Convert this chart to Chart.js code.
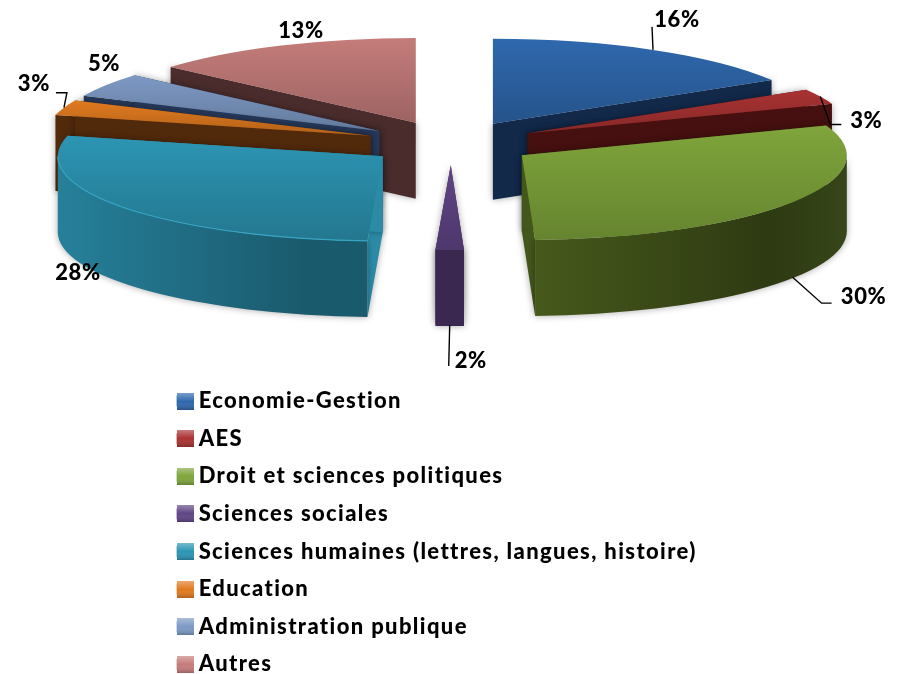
<!DOCTYPE html>
<html><head><meta charset="utf-8">
<style>html,body{margin:0;padding:0;background:#fff;overflow:hidden}#wrap{width:902px;height:674px;position:relative;overflow:hidden}canvas{display:block;filter:blur(0.45px)}</style>
<script src="https://cdn.jsdelivr.net/npm/chart.js@4"></script>
</head><body><div id="wrap"><canvas id="c" width="902" height="691"></canvas></div>
<script>
const categories = ['Economie-Gestion','AES','Droit et sciences politiques','Sciences sociales','Sciences humaines (lettres, langues, histoire)','Education','Administration publique','Autres'];
const shares = [16.4,2.9,30.05,1.4,28.15,2.9,4.6,13.6];
const shareLabels = ['16%','3%','30%','2%','28%','3%','5%','13%'];
const topColors = ['#2f68ad','#a93232','#7fa53b','#604586','#2c95b3','#e07a1f','#7d99c4','#c47c7a'];
const cutColors = ['#12294a','#45100f','#43561c','#3a2850','#2b8ba6','#51290b','#27395a','#4a2c2c'];
const wallFrom  = ['#12294a','#45100f','#46591b','#3a2850','#26809a','#51290b','#27395a','#4a2c2c'];
const wallTo    = ['#12294a','#45100f','#2e3a12','#3a2850','#1a5a6d','#51290b','#27395a','#4a2c2c'];
const rimColors = [null,null,null,null,'#37a5c4',null,null,null];
// label placement relative to the slice's rim anchor (style, not data)
const labelShift = [[24,-30],[46,24],[71,20],[21,36],[0,0],[-30,-24],[0,0],[0,0]];
const leaderPath = [[[-1,-23]],[[10,28],[21,28]],[[29,26],[39,26]],[[-1,41]],[],[[3,-15],[-8,-15]],[],[]];
const freeLabels = {4:[78,273],6:[104,64],7:[301,31]};

const TILT=0.261, DEPTH=76, CX=451, CY=143, EXPLODE=85;
const FONT={family:'Lato',size:22,weight:'900'};
const TRACKING='1.37px';

function sliceGeom(arc){
  const a0=arc.startAngle,a1=arc.endAngle,mid=(a0+a1)/2,R=arc.outerRadius;
  return {a0,a1,mid,R,ox:CX+Math.cos(mid)*EXPLODE,oy:CY+Math.sin(mid)*EXPLODE*TILT};
}
function rimPoint(g,a){return [g.ox+Math.cos(a)*g.R,g.oy+Math.sin(a)*g.R*TILT];}

const pie3d={
  id:'pie3d',
  beforeDraw(chart){chart.ctx.letterSpacing=TRACKING;},
  beforeDatasetDraw(chart,args){
    const ctx=chart.ctx, arcs=chart.getDatasetMeta(args.index).data;
    const order=arcs.map((a,i)=>i).sort((p,q)=>Math.sin(sliceGeom(arcs[p]).mid)-Math.sin(sliceGeom(arcs[q]).mid));
    for(const i of order){
      const arc=arcs[i],g=sliceGeom(arc);
      ctx.save();
      ctx.shadowColor='rgba(0,0,0,0.35)';ctx.shadowBlur=7;
      ctx.fillStyle=cutColors[i];
      for(const a of [g.a0,g.a1]){
        const p=rimPoint(g,a);
        ctx.beginPath();ctx.moveTo(g.ox,g.oy);ctx.lineTo(p[0],p[1]);ctx.lineTo(p[0],p[1]+DEPTH);ctx.lineTo(g.ox,g.oy+DEPTH);ctx.closePath();ctx.fill();
      }
      let w0=Math.max(g.a0,0),w1=Math.min(g.a1,Math.PI);
      if(w1>w0){
        const l=rimPoint(g,w1)[0],r=rimPoint(g,w0)[0];
        const grad=ctx.createLinearGradient(Math.min(l,r),0,Math.max(l,r),0);
        if(i===2){grad.addColorStop(0,wallFrom[i]);grad.addColorStop(.75,wallTo[i]);grad.addColorStop(1,'#36451a');}
        else{grad.addColorStop(0,wallFrom[i]);grad.addColorStop(.8,wallTo[i]);grad.addColorStop(1,wallTo[i]);}
        ctx.fillStyle=grad;
        ctx.beginPath();
        ctx.ellipse(g.ox,g.oy,g.R,g.R*TILT,0,w0,w1);
        ctx.ellipse(g.ox,g.oy+DEPTH,g.R,g.R*TILT,0,w1,w0,true);
        ctx.closePath();ctx.fill();
      }
      ctx.restore();
      ctx.save();
      ctx.translate(g.ox,g.oy);ctx.scale(1,TILT);ctx.translate(-arc.x,-arc.y);
      arc.draw(ctx);
      const ys=[0,Math.sin(g.a0)*g.R,Math.sin(g.a1)*g.R];
      for(const q of [-Math.PI/2,Math.PI/2,Math.PI*1.5]) if(q>g.a0&&q<g.a1) ys.push(Math.sin(q)*g.R);
      const sh=ctx.createLinearGradient(0,arc.y+Math.min(...ys),0,arc.y+Math.max(...ys));
      sh.addColorStop(0,'rgba(0,0,0,0)');sh.addColorStop(1,'rgba(0,0,0,0.2)');
      ctx.fillStyle=sh;
      ctx.beginPath();ctx.moveTo(arc.x,arc.y);ctx.arc(arc.x,arc.y,g.R,g.a0,g.a1);ctx.closePath();ctx.fill();
      ctx.restore();
      if(rimColors[i]&&w1>w0){
        ctx.save();ctx.strokeStyle=rimColors[i];ctx.lineWidth=1.2;
        ctx.beginPath();ctx.ellipse(g.ox,g.oy,g.R,g.R*TILT,0,w0,w1);ctx.stroke();ctx.restore();
      }
    }
    return false;
  },
  afterDraw(chart){
    const ctx=chart.ctx, arcs=chart.getDatasetMeta(0).data;
    ctx.save();
    ctx.letterSpacing='0.6px';
    ctx.font=`${FONT.weight} 22px ${FONT.family}`;
    ctx.textBaseline='middle';ctx.textAlign='center';
    ctx.fillStyle='#000';ctx.strokeStyle='#000';ctx.lineWidth=1.4;
    arcs.forEach((arc,i)=>{
      const g=sliceGeom(arc);
      const p=rimPoint(g,g.mid);
      const ax=p[0],ay=p[1]+(Math.sin(g.mid)>0?DEPTH-1:0);
      if(leaderPath[i].length){
        ctx.beginPath();ctx.moveTo(ax,ay);
        for(const s of leaderPath[i]) ctx.lineTo(ax+s[0],ay+s[1]);
        ctx.stroke();
      }
      const pos=freeLabels[i]||[ax+labelShift[i][0],ay+labelShift[i][1]];
      ctx.fillText(shareLabels[i],pos[0],pos[1]);
    });
    const S=17;
    chart.legend.legendHitBoxes.forEach((b,i)=>{
      const x=Math.round(b.left),y=Math.round(b.top+b.height/2-S/2);
      ctx.fillStyle=topColors[i];ctx.fillRect(x,y,S,S);
      const gr=ctx.createLinearGradient(0,y,0,y+S);
      gr.addColorStop(0,'rgba(255,255,255,0.35)');gr.addColorStop(.5,'rgba(255,255,255,0)');gr.addColorStop(1,'rgba(0,0,0,0.22)');
      ctx.fillStyle=gr;ctx.fillRect(x,y,S,S);
    });
    ctx.restore();
  }
};

new Chart(document.getElementById('c'),{
  type:'pie',
  data:{labels:categories,datasets:[{data:shares,backgroundColor:topColors,borderWidth:0,radius:325}]},
  plugins:[pie3d],
  options:{
    responsive:false,animation:false,
    layout:{padding:{left:161,bottom:0,top:0,right:0}},
    plugins:{
      tooltip:{enabled:false},
      legend:{position:'chartArea',align:'end',labels:{font:FONT,color:'#000',boxWidth:11,boxHeight:11,padding:15.625}}
    }
  }
});
</script></body></html>
